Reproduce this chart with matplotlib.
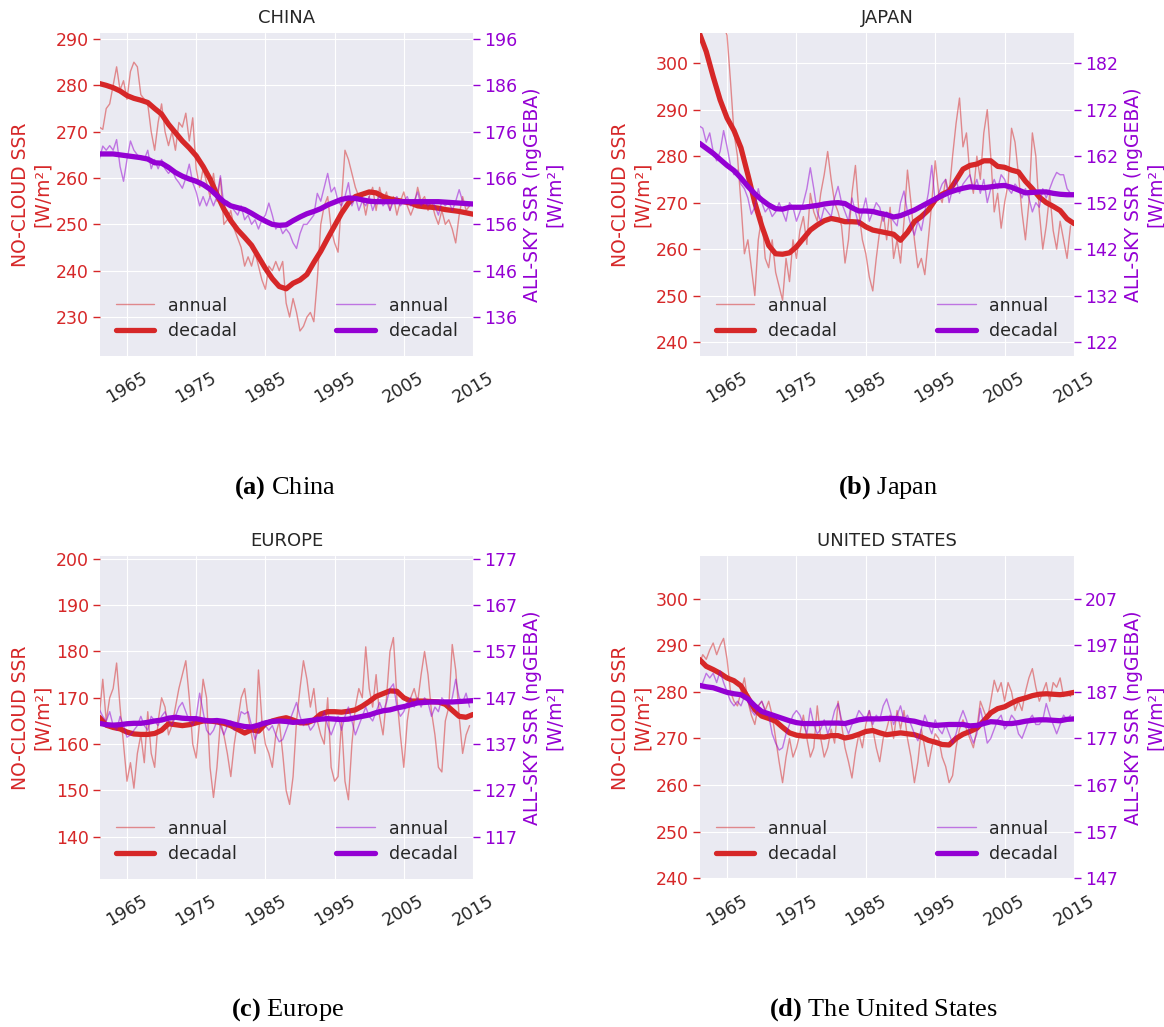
import numpy as np
import matplotlib
matplotlib.use('Agg')
import matplotlib.pyplot as plt

plt.style.use('seaborn-v0_8-darkgrid')
plt.rcParams['font.family'] = ['DejaVu Sans']
plt.rcParams['mathtext.fontset'] = 'custom'
plt.rcParams['mathtext.rm'] = 'Liberation Serif'
plt.rcParams['mathtext.bf'] = 'Liberation Serif:bold'

RED = '#d62728'
PURPLE = '#9400d3'

# ---------------- data ----------------
annual_years = np.arange(1961.0, 2014.51, 0.5)
decadal_years = np.arange(1961, 2016)
xtick_years = [1965, 1975, 1985, 1995, 2005, 2015]

regions = ['CHINA', 'JAPAN', 'EUROPE', 'UNITED STATES']
captions = [r'$\mathbf{(a)}$ China', r'$\mathbf{(b)}$ Japan',
            r'$\mathbf{(c)}$ Europe', r'$\mathbf{(d)}$ The United States']

# CHINA
china_noc_annual = [271, 270.5, 275, 276, 280, 284, 279, 281, 277, 283, 285, 284, 278, 277,
                    276, 270, 266, 272, 276, 270, 267, 270, 266, 272, 271, 274, 268, 273,
                    262, 258, 262, 259, 256, 261, 255, 260, 250, 251, 253, 249, 247, 245,
                    241, 243, 241, 244, 241, 238, 236, 241, 240, 242, 240, 242, 233, 230,
                    234, 231, 227, 228, 230, 231, 229, 238, 250, 254, 256, 249, 246, 244,
                    255, 266, 264, 261, 258, 256, 256, 252, 256, 258, 253, 258, 255, 257,
                    253, 256, 252, 255, 257, 254, 252, 254, 258, 255, 256, 253, 255, 252,
                    250, 253, 250, 251, 249, 246, 252, 256, 253, 254]
china_noc_decadal = [280.4, 280.0, 279.5, 278.8, 277.8, 277.2, 276.8, 276.3, 275.0, 273.8,
                     271.6, 269.8, 268.0, 266.5, 264.8, 262.5, 259.8, 256.5, 253.3, 250.8,
                     248.8, 247.2, 245.5, 243.0, 240.5, 238.3, 236.6, 236.1, 237.3, 238.0,
                     239.2, 241.8, 244.2, 247.0, 249.7, 252.4, 254.6, 256.0, 256.5, 257.0,
                     256.8, 256.0, 255.5, 255.2, 254.9, 254.6, 254.0, 253.8, 253.7, 253.5,
                     253.2, 253.0, 252.8, 252.5, 252.2]
china_all_annual = [170, 172.9, 172, 173, 172, 174.3, 168.5, 165.3, 170, 174, 172, 171, 170, 170,
                    172, 168, 170, 168, 170, 168, 167, 168, 166, 165, 163.8, 166, 169, 165,
                    163, 160, 162, 160, 162, 160, 162, 166.5, 160, 161, 160, 159, 158, 160,
                    157, 158, 156, 157, 155, 157, 158, 160.6, 158, 155, 156, 154, 155, 154,
                    152, 150.8, 154, 156, 156, 157, 158, 162.7, 161, 164, 167, 163, 164, 161,
                    160, 162, 165, 160, 162, 159, 161, 160, 162, 159, 161, 162, 160, 161,
                    159, 161, 162, 160, 161, 162, 160, 161, 163, 160, 161, 160, 161, 160,
                    158, 161, 160, 161, 159, 161, 163.5, 161, 160, 160]
china_all_decadal = [171.2, 171.2, 171.2, 171.0, 170.8, 170.6, 170.4, 170.1, 169.3, 169.2,
                     168.3, 167.2, 166.4, 165.8, 165.3, 164.6, 163.6, 162.2, 160.9, 160.0,
                     159.6, 159.2, 158.4, 157.5, 156.7, 156.0, 155.8, 155.9, 156.8, 157.6,
                     158.3, 158.8, 159.4, 160.2, 160.8, 161.4, 161.7, 161.6, 161.3, 161.0,
                     160.9, 160.9, 160.9, 160.9, 160.9, 160.9, 160.9, 160.9, 160.9, 160.9,
                     160.8, 160.7, 160.6, 160.5, 160.4]

# JAPAN
japan_noc_annual = [310, 308, 309, 312, 310, 312, 310, 308, 306, 296, 285, 280, 270, 259,
                    262, 256, 250, 262, 267, 258, 256, 262, 255, 252, 249, 258, 253, 262,
                    258, 264, 267, 261, 272, 268, 266, 272, 276, 281, 275, 270, 268, 265,
                    257, 262, 272, 278, 268, 262, 259, 254, 251, 258, 264, 268, 262, 269,
                    258, 262, 257, 266, 277, 270, 262, 256, 258, 254.5, 262, 270, 279, 272,
                    270, 275, 272, 280, 287, 292.5, 282, 285, 276, 272, 280, 275, 285, 290,
                    280, 268, 272, 264.5, 270, 274, 286, 283, 276, 268, 262, 270, 285, 280,
                    268, 260, 265, 272, 264, 260, 266, 262, 258, 265]
japan_noc_decadal = [306.5, 302.5, 297.1, 292.1, 288.2, 285.5, 281.8, 276.0, 270.0, 265.0,
                     260.8, 259.0, 258.9, 259.2, 260.5, 262.3, 264.1, 265.2, 266.1, 266.6,
                     266.3, 265.9, 265.9, 265.8, 264.8, 264.1, 263.8, 263.5, 263.2, 261.9,
                     263.6, 265.9, 267.0, 268.4, 270.6, 271.8, 272.5, 274.8, 277.2, 278.0,
                     278.3, 279.0, 279.0, 277.8, 277.6, 277.0, 276.6, 274.6, 273.0, 271.2,
                     270.0, 269.2, 268.3, 266.5, 265.5]
japan_all_annual = [168.5, 168, 165, 167, 163, 161, 163, 167.5, 164, 160, 158, 159, 156, 155,
                    153, 149.5, 151, 155, 152, 150, 151, 149, 150, 152, 150, 148, 152, 151,
                    148, 150, 152, 155, 159.5, 155, 150, 148, 151, 150, 149, 153, 155.5, 152,
                    150, 148, 153, 150, 147, 150, 153, 148, 150, 152, 151, 148, 150, 149,
                    148, 147, 152, 154.5, 150, 147, 145, 148, 146, 150, 154, 160, 152, 154,
                    156, 157, 152, 155, 157, 154, 156, 157, 158, 155, 157, 154, 157, 152,
                    155, 157, 155, 158, 157, 155, 154, 156, 155, 153, 155, 153, 150, 152,
                    151, 155, 153, 155, 157, 158.5, 158, 158, 155, 154]
japan_all_decadal = [164.8, 163.7, 162.6, 161.3, 160.0, 158.9, 157.3, 155.5, 153.9, 152.6,
                     151.5, 150.7, 150.6, 151.0, 151.0, 151.0, 151.2, 151.4, 151.7, 151.9,
                     152.0, 151.8, 150.9, 150.2, 150.2, 150.1, 149.7, 149.4, 148.9, 149.2,
                     149.8, 150.4, 151.2, 152.0, 152.8, 153.5, 154.2, 154.7, 155.1, 155.4,
                     155.3, 155.2, 155.4, 155.6, 155.7, 155.3, 154.7, 154.1, 154.2, 154.3,
                     154.3, 154.0, 153.8, 153.7, 153.7]

# EUROPE
europe_noc_annual = [166, 174, 165, 170, 172, 177.5, 168, 160, 152, 156, 150.5, 158, 162, 156,
                     167, 158, 155, 165, 170, 168, 162, 164, 168, 172, 175, 178, 170, 160,
                     157, 165, 174, 170, 155, 148.5, 155, 165, 162, 158, 153, 160, 165, 170,
                     172, 166, 162, 158, 176, 165, 160, 158, 155, 162, 165, 158, 150, 147,
                     153, 165, 172, 178, 174, 168, 172, 165, 162, 160, 170, 155, 152, 153,
                     165, 152, 148, 160, 168, 172, 170, 181, 172, 168, 175, 166, 162, 170,
                     180, 183, 170, 162, 155, 165, 170, 172, 169, 175, 180, 175, 167, 162,
                     155, 154, 165, 168, 181.5, 176, 166, 158, 162, 164]
europe_noc_decadal = [165.8, 164.1, 163.6, 163.3, 162.6, 162.2, 162.1, 162.1, 162.3, 163.0,
                      164.4, 164.2, 164.0, 164.2, 164.6, 165.0, 165.0, 164.8, 164.5, 164.0,
                      163.2, 162.4, 163.1, 162.8, 164.4, 165.0, 165.4, 165.7, 165.2, 164.6,
                      164.6, 165.2, 166.5, 167.0, 167.0, 166.9, 167.1, 167.4, 168.2, 169.2,
                      170.3, 170.9, 171.5, 171.4, 170.0, 169.3, 169.3, 169.3, 169.2, 169.1,
                      168.6, 167.3, 166.0, 165.8, 166.4]
europe_all_annual = [144.5, 143, 142, 144, 141, 140, 143, 141, 138.5, 139, 140, 141, 143, 141,
                     140, 143, 142, 141, 143, 144, 142, 141, 143, 145, 146, 144, 142, 141,
                     143, 148, 144, 140, 139, 140, 142, 141, 139, 141, 142, 140, 141, 144,
                     143.5, 144, 141, 138, 140, 142, 141, 140, 141, 139, 137.5, 138, 140, 142,
                     144, 146, 143, 141, 142, 140, 141, 143, 142, 144, 141, 139, 141, 143,
                     140, 143, 145, 142, 139, 141, 143, 145, 143, 142, 144, 146, 144, 146,
                     149, 150, 145, 143, 144, 146, 147, 145, 147, 145, 147, 146, 143, 145,
                     144, 147, 146, 145, 147, 151, 147, 146, 148, 145]
europe_all_decadal = [141.5, 141.2, 141.1, 141.2, 141.4, 141.5, 141.5, 141.7, 142.0, 142.2,
                      142.6, 142.8, 142.6, 142.5, 142.5, 142.2, 142.0, 142.1, 141.9, 141.5,
                      141.1, 140.8, 140.7, 141.1, 141.6, 141.9, 142.0, 141.9, 141.7, 141.8,
                      142.0, 142.2, 142.4, 142.5, 142.4, 142.3, 142.4, 142.7, 143.0, 143.3,
                      143.8, 144.2, 144.4, 144.8, 145.1, 145.5, 145.9, 146.0, 146.1, 146.1,
                      146.1, 146.1, 146.2, 146.3, 146.4]

# UNITED STATES
us_noc_annual = [286, 288, 287, 289, 290.5, 288, 290, 291.5, 287, 280, 278, 277, 280, 283,
                 278, 275, 273, 277, 278, 276, 278, 275, 270, 265, 260.5, 266, 270, 266,
                 268, 271, 275, 270, 266, 268, 277, 270, 266, 268, 272, 269, 278, 273,
                 268, 265, 261.5, 267, 271, 268, 273, 276, 272, 268, 265, 270, 272, 275,
                 270, 276, 272, 276, 270, 266, 260.5, 265, 272, 268, 264, 268, 271, 270,
                 266, 264, 260.5, 262, 268, 272, 274, 272, 270, 268, 272, 278, 276, 274,
                 278, 282.5, 280, 282, 278, 282, 280, 276, 278, 276, 280, 283, 285, 281,
                 278, 280, 282, 278, 282, 281, 283, 279, 280, 279]
us_noc_decadal = [287.0, 285.5, 284.8, 284.0, 283.0, 282.4, 281.3, 278.8, 276.2, 274.8,
                  274.3, 273.7, 272.4, 271.2, 270.7, 270.5, 270.5, 270.4, 270.3, 270.6,
                  270.6, 270.1, 270.4, 270.9, 271.5, 271.7, 271.2, 270.8, 271.0, 271.2,
                  271.0, 270.8, 270.3, 269.6, 269.2, 268.7, 268.6, 270.0, 270.9, 271.5,
                  272.2, 273.8, 275.5, 276.4, 276.8, 277.6, 278.3, 278.7, 279.2, 279.5,
                  279.6, 279.5, 279.4, 279.6, 279.9]
us_all_annual = [188, 189, 191, 190, 191, 189, 191.5, 189, 187, 185, 184, 185, 184, 186,
                 185, 183, 182, 184, 185, 183, 182, 178, 176, 174.5, 175, 178, 180, 182,
                 183, 182, 180, 178, 183.5, 180, 178, 179, 181, 178, 180, 183, 184.5, 181,
                 180, 178, 180, 181, 183, 182, 181, 183, 180, 182, 181, 184, 185.5, 183,
                 180, 182, 184, 181, 182, 180, 178, 176.5, 179, 182, 180, 178, 181, 179,
                 178, 180, 178, 176, 178, 181, 183, 181, 178, 176, 178, 183.5, 180, 176,
                 177, 179, 181, 182, 179, 180, 182, 181, 178, 177, 179, 181, 182, 180,
                 180, 181, 184.5, 182, 180, 178, 180, 182, 181, 182]
us_all_decadal = [188.4, 188.1, 187.9, 187.4, 186.9, 186.6, 186.4, 185.5, 184.0, 182.8,
                  182.3, 181.8, 181.3, 180.8, 180.4, 180.2, 180.2, 180.2, 180.3, 180.3,
                  180.3, 180.2, 180.6, 181.0, 181.2, 181.2, 181.2, 181.3, 181.3, 181.2,
                  180.9, 180.7, 180.3, 180.0, 179.8, 179.9, 180.0, 180.0, 180.0, 179.7,
                  179.8, 180.2, 180.6, 180.5, 180.2, 180.2, 180.4, 180.7, 180.9, 181.0,
                  181.0, 180.9, 180.8, 181.1, 181.2]

noc_annual = [china_noc_annual, japan_noc_annual, europe_noc_annual, us_noc_annual]
noc_decadal = [china_noc_decadal, japan_noc_decadal, europe_noc_decadal, us_noc_decadal]
all_annual = [china_all_annual, japan_all_annual, europe_all_annual, us_all_annual]
all_decadal = [china_all_decadal, japan_all_decadal, europe_all_decadal, us_all_decadal]

left_ticks = [np.arange(230, 291, 10), np.arange(240, 301, 10),
              np.arange(140, 201, 10), np.arange(240, 301, 10)]
right_ticks = [np.arange(136, 197, 10), np.arange(122, 183, 10),
               np.arange(117, 178, 10), np.arange(147, 208, 10)]
left_lims = [(221.6, 291.3), (237.0, 306.5), (130.9, 200.6), (239.8, 309.2)]
right_lims = [(127.6, 197.3), (119.0, 188.5), (107.9, 177.6), (146.8, 216.2)]

# ---------------- layout ----------------
fig = plt.figure(figsize=(11.64, 10.27), dpi=100)
W, H = 1164, 1027
boxes = [(100, 33, 473, 356), (700, 33, 1074, 356),
         (100, 556, 473, 879), (700, 556, 1074, 879)]
cap_pos = [(285, 488), (888, 488), (288, 1010), (883, 1010)]

TICK_FS = 12.5
for i in range(4):
    x0, y0, x1, y1 = boxes[i]
    ax = fig.add_axes([x0 / W, 1 - y1 / H, (x1 - x0) / W, (y1 - y0) / H])
    ax2 = ax.twinx()

    l1, = ax.plot(annual_years, noc_annual[i], color=RED, lw=1.0, alpha=0.5, label='annual')
    l2, = ax.plot(decadal_years, noc_decadal[i], color=RED, lw=3.8, label='decadal',
                  solid_capstyle='round')
    p1, = ax2.plot(annual_years, all_annual[i], color=PURPLE, lw=1.0, alpha=0.5, label='annual')
    p2, = ax2.plot(decadal_years, all_decadal[i], color=PURPLE, lw=3.8, label='decadal',
                   solid_capstyle='round')

    ax.set_xlim(1961.1, 2015)
    ax.set_xticks(xtick_years)
    ax.set_xticklabels([str(y) for y in xtick_years], rotation=30, fontsize=TICK_FS,
                       color='#262626')
    ax.tick_params(axis='x', length=0, pad=9)

    ax.set_ylim(*left_lims[i])
    ax.set_yticks(left_ticks[i])
    ax.tick_params(axis='y', colors=RED, labelcolor=RED, labelsize=TICK_FS,
                   length=5, width=1, pad=3, left=True)
    ax2.set_ylim(*right_lims[i])
    ax2.set_yticks(right_ticks[i])
    ax2.tick_params(axis='y', colors=PURPLE, labelcolor=PURPLE, labelsize=TICK_FS,
                    length=5, width=1, pad=3, right=True)
    ax2.grid(False)
    for s in ax2.spines.values():
        s.set_visible(False)

    ax.set_ylabel('NO-CLOUD SSR\n[W/m²]', color=RED, fontsize=13.5, labelpad=3)
    ax2.set_ylabel('ALL-SKY SSR (ngGEBA)\n[W/m²]', color=PURPLE, fontsize=13.5, labelpad=4)
    ax.set_title(regions[i], fontsize=13, color='#262626', pad=7)

    leg1 = ax2.legend(handles=[l1, l2], loc='lower left', fontsize=12.5, frameon=False,
                      handlelength=2.2, labelspacing=0.45)
    for t in leg1.get_texts():
        t.set_color('#262626')
    ax2.add_artist(leg1)
    leg2 = ax2.legend(handles=[p1, p2], loc='lower right', fontsize=12.5, frameon=False,
                      handlelength=2.2, labelspacing=0.45)
    for t in leg2.get_texts():
        t.set_color('#262626')

    cx, cy = cap_pos[i]
    fig.text(cx / W, 1 - cy / H, captions[i], ha='center', va='center',
             fontsize=19, family='Liberation Serif', color='black')

fig.savefig('out.png', dpi=100)
